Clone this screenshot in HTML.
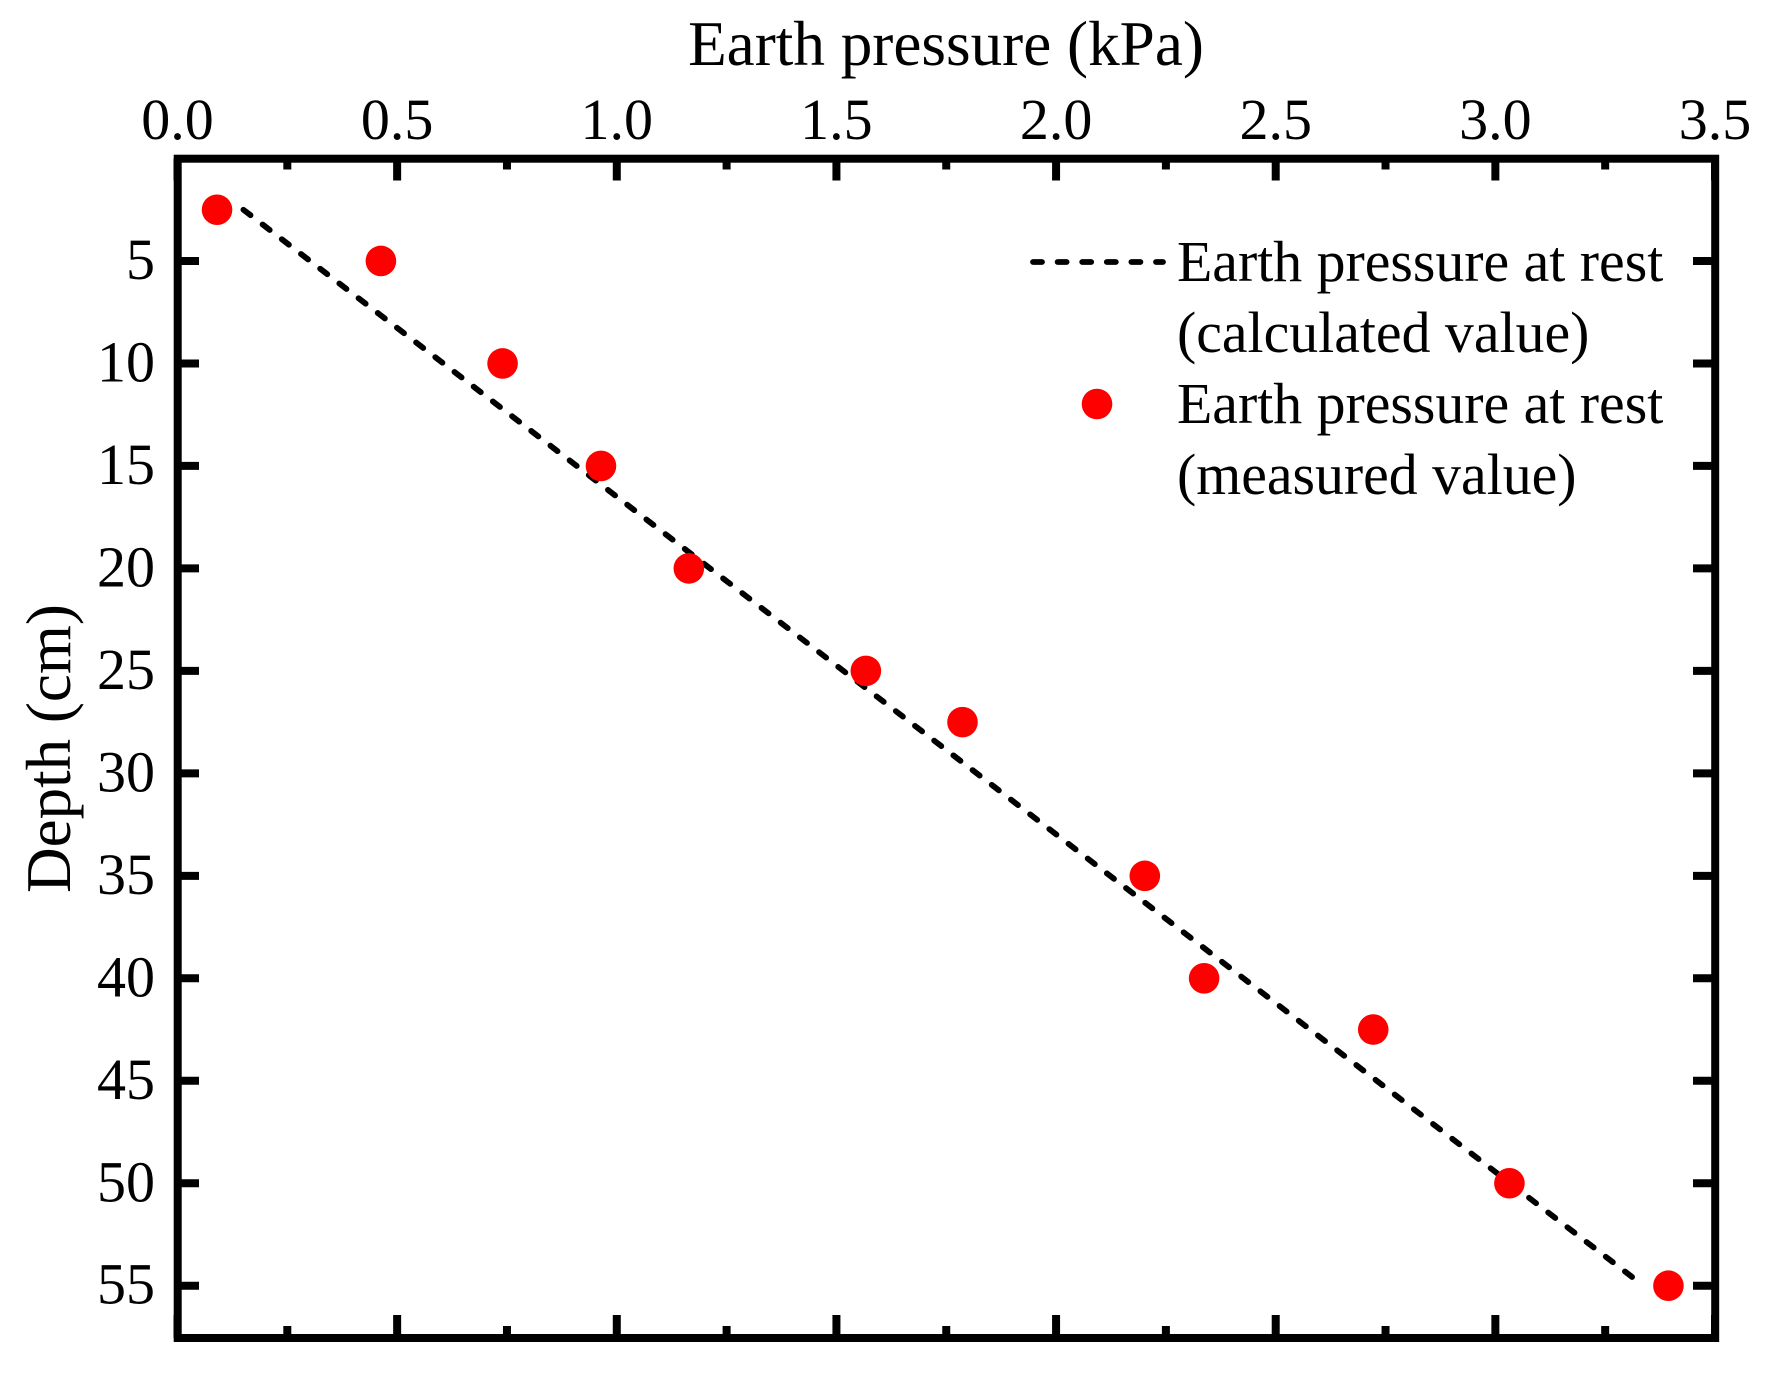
<!DOCTYPE html>
<html lang="en">
<head>
<meta charset="utf-8">
<title>Earth pressure vs depth</title>
<style>
html,body{margin:0;padding:0;background:#fff;}
svg{display:block;}
text{font-family:"Liberation Serif",serif;fill:#000;}
</style>
</head>
<body>
<svg id="chart" xmlns="http://www.w3.org/2000/svg" width="1770" height="1377" viewBox="0 0 1770 1377">
  <rect x="0" y="0" width="1770" height="1377" fill="#fff"/>
  <g id="ticks"></g>
  <g id="labels"></g>
  <g id="series"></g>
  <rect x="177.7" y="158.7" width="1537.5" height="1179.3" fill="none" stroke="#000" stroke-width="8"/>
  <text x="946" y="65" font-size="63.2" text-anchor="middle">Earth pressure (kPa)</text>
  <text transform="translate(70,748.5) rotate(-90)" font-size="63" text-anchor="middle">Depth (cm)</text>
  <g>
    <line x1="1033" y1="262" x2="1163" y2="262" stroke="#000" stroke-width="5.8" stroke-linecap="round" stroke-dasharray="9 15.6"/>
    <text x="1177" y="281" font-size="57.8">Earth pressure at rest</text>
    <text x="1177" y="352" font-size="57.8">(calculated value)</text>
    <circle cx="1097" cy="404" r="15.3" fill="#ff0000"/>
    <text x="1177" y="423" font-size="57.8">Earth pressure at rest</text>
    <text x="1177" y="494" font-size="57.8">(measured value)</text>
  </g>
</svg>
<script>
var xMajorTicks = ["0.0", "0.5", "1.0", "1.5", "2.0", "2.5", "3.0", "3.5"];
var xMinorTicks = [0.25, 0.75, 1.25, 1.75, 2.25, 2.75, 3.25];
var yTicks = [5, 10, 15, 20, 25, 30, 35, 40, 45, 50, 55];
var measuredPressure = [0.09, 0.463, 0.74, 0.964, 1.164, 1.567, 1.787, 2.202, 2.337, 2.722, 3.032, 3.394];
var measuredDepth = [2.5, 5, 10, 15, 20, 25, 27.5, 35, 40, 42.5, 50, 55];
var calculatedPressure = [0.15, 3.322];
var calculatedDepth = [2.5, 54.75];

var NS = 'http://www.w3.org/2000/svg';
var plot = { left: 177.5, right: 1715, top: 158.5, bottom: 1338 };
var xDomain = [0, 3.5];
var yDomain = [0, 57.55];

function xScale(v) {
  return plot.left + (v - xDomain[0]) / (xDomain[1] - xDomain[0]) * (plot.right - plot.left);
}
function yScale(v) {
  return plot.top + (v - yDomain[0]) / (yDomain[1] - yDomain[0]) * (plot.bottom - plot.top);
}
function make(tag, attrs, parent) {
  var el = document.createElementNS(NS, tag);
  for (var k in attrs) { el.setAttribute(k, attrs[k]); }
  parent.appendChild(el);
  return el;
}

var ticksG = document.getElementById('ticks');
var labelsG = document.getElementById('labels');
var seriesG = document.getElementById('series');

function tickLine(x1, y1, x2, y2) {
  return make('line', { x1: x1, y1: y1, x2: x2, y2: y2, stroke: '#000', 'stroke-width': 8 }, ticksG);
}

xMajorTicks.forEach(function (label) {
  var x = xScale(parseFloat(label));
  var top = tickLine(x, plot.top, x, plot.top + 22);
  
  
  var bottom = tickLine(x, plot.bottom, x, plot.bottom - 23);
  
  
  var t = make('text', { x: x, y: 139, 'font-size': 58, 'text-anchor': 'middle' }, labelsG);
  t.textContent = label;
  
  
});

xMinorTicks.forEach(function (v) {
  var x = xScale(v);
  var top = tickLine(x, plot.top, x, plot.top + 11);
  
  
  var bottom = tickLine(x, plot.bottom, x, plot.bottom - 12);
  
  
});

yTicks.forEach(function (v) {
  var y = yScale(v);
  var left = tickLine(plot.left, y, plot.left + 21.5, y);
  
  
  var right = tickLine(plot.right, y, plot.right - 22, y);
  
  
  var t = make('text', { x: 155, y: y + 18, 'font-size': 58, 'text-anchor': 'end' }, labelsG);
  t.textContent = String(v);
  
  
});

var calcLine = make('line', {
  x1: xScale(calculatedPressure[0]),
  y1: yScale(calculatedDepth[0]),
  x2: xScale(calculatedPressure[1]),
  y2: yScale(calculatedDepth[1]),
  stroke: '#000',
  'stroke-width': 5.8,
  'stroke-linecap': 'round',
  'stroke-dasharray': '9 15.2'
}, seriesG);



measuredPressure.forEach(function (p, i) {
  var c = make('circle', { cx: xScale(p), cy: yScale(measuredDepth[i]), r: 15.3, fill: '#ff0000' }, seriesG);
  
  
});
</script>
</body>
</html>
